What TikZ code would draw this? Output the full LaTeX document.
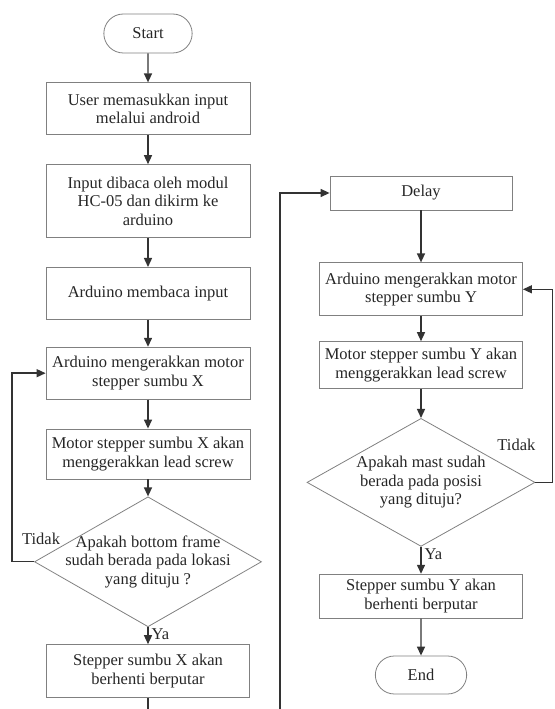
\documentclass[tikz,border=0pt]{standalone}
\usepackage{fontspec}
\setmainfont{Liberation Serif}
\usetikzlibrary{arrows.meta,positioning,shapes.geometric,shapes.misc}

\begin{document}
\begin{tikzpicture}[
    x = 1pt, y = 1pt,
    > = {Triangle[length=9pt,width=8pt]}, % arrow head style
    node distance = 29pt, % distance between nodes
    line width = 1.4pt, % line style
    draw = black!80,
    ]

    \tikzset{
    every node/.style = {font = \fontsize{16.5}{18.5}\selectfont, text = black!85},
    terminal/.style = {rounded rectangle, draw = black!50, line width = 0.8pt,
        minimum width = 95pt, minimum height = 39pt},
    process/.style = {rectangle, draw = black!50, line width = 0.8pt,
        minimum width = 204pt, minimum height = 52pt, align = center},
    decision/.style = {diamond, aspect = 1.75, draw = black!50, line width = 0.8pt,
        inner sep = -8pt, align = center},
    }

    \useasboundingbox (0,0) rectangle (554,709);

    % left column
    \node[terminal] (start) at (148,675.5) {Start};
    \node[process] (input) [below=of start] {User memasukkan input\\melalui android};
    \node[process, minimum height = 73pt] (hc) [below=of input] {Input dibaca oleh modul\\HC-05 dan dikirm ke\\arduino};
    \node[process] (baca) [below=of hc] {Arduino membaca input};
    \node[process] (gerakX) [below=27pt of baca] {Arduino mengerakkan motor\\stepper sumbu X};
    \node[process, minimum height = 50pt] (screwX) [below=29pt of gerakX] {Motor stepper sumbu X akan\\menggerakkan lead screw};
    \node[decision, minimum width = 227pt, minimum height = 130pt] (cekX) [below=17pt of screwX] {Apakah bottom frame\\sudah berada pada lokasi\\yang dituju ?};
    \node[process, minimum width = 203pt, minimum height = 53pt] (stopX) [below=17pt of cekX] {Stepper sumbu X akan\\berhenti berputar};

    % right column
    \node[process, minimum width = 182pt, minimum height = 34pt] (delay) at (421,516) {Delay};
    \node[process, minimum width = 203pt, minimum height = 53pt] (gerakY) [below=52pt of delay] {Arduino mengerakkan motor\\stepper sumbu Y};
    \node[process, minimum width = 203pt, minimum height = 47pt] (screwY) [below=25pt of gerakY] {Motor stepper sumbu Y akan\\menggerakkan lead screw};
    \node[decision, minimum width = 228pt, minimum height = 128pt] (cekY) [below=29pt of screwY] {Apakah mast sudah\\berada pada posisi\\yang dituju?};
    \node[process, minimum width = 203pt, minimum height = 44pt] (stopY) [below=27pt of cekY] {Stepper sumbu Y akan\\berhenti berputar};
    \node[terminal, minimum width = 98pt, minimum height = 38pt] (end) [below=37pt of stopY] {End};

    % labels
    \node (tidakX) at ([shift={(7,23)}]cekX.west) {Tidak};
    \node[anchor = north west, inner sep = 1pt] (yaX) at ([xshift=2pt]cekX.south) {Ya};
    \node (tidakY) at ([shift={(-19,38)}]cekY.east) {Tidak};
    \node[anchor = north west, inner sep = 1pt] (yaY) at ([xshift=2pt]cekY.south) {Ya};

    % cut ends at the bottom
    \coordinate (cutL) at (stopX.south |- 0,0);
    \coordinate (cutR) at (280,0);

    \path[->] (start) edge (input);
    \path[->] (input) edge (hc);
    \path[->] (hc) edge (baca);
    \path[->] (baca) edge (gerakX);
    \path[->] (gerakX) edge (screwX);
    \path[->] (screwX) edge (cekX);
    \path[->] (cekX) edge (stopX);
    \draw[->] (cekX.west) -- ++(-22,0) |- (gerakX.west);
    \draw (stopX) -- (cutL);
    \draw[->] (cutR) |- (delay.west);
    \path[->] (delay) edge (gerakY);
    \path[->] (gerakY) edge (screwY);
    \path[->] (screwY) edge (cekY);
    \path[->] (cekY) edge (stopY);
    \path[->] (stopY) edge (end);
    \draw[->] (cekY.east) -- ++(17,0) |- (gerakY.east);
\end{tikzpicture}
\end{document}
